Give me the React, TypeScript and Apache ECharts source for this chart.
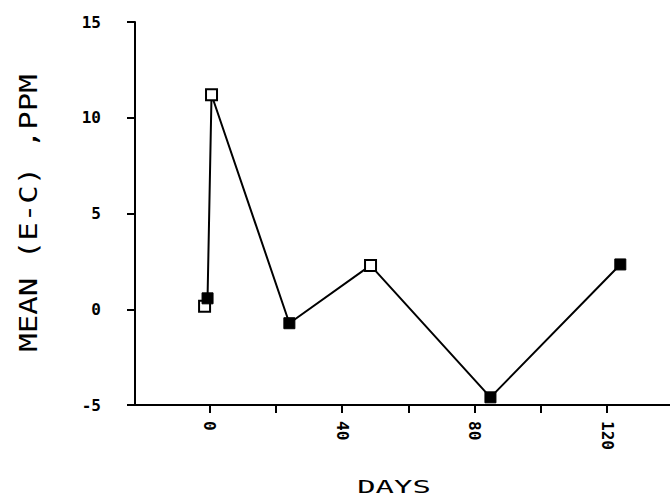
import React, { useEffect, useRef } from "react";
import * as echarts from "echarts";

// Data
const days = [-1.5, -0.6, 0.6, 24.1, 48.6, 84.8, 124];
const meanEC = [0.16, 0.57, 11.2, -0.73, 2.29, -4.6, 2.34];
const filledMarker = [false, true, false, true, false, true, true];

const xTickValues = [0, 20, 40, 60, 80, 100, 120];
const xLabelValues = [0, 40, 80, 120];
const yTickValues = [-5, 0, 5, 10, 15];

const xAxisTitle = "DAYS";
const yAxisTitle = "MEAN (E-C) ,PPM";

const FONT = "'DejaVu Sans Mono', 'Liberation Mono', monospace";

export default function App() {
  const ref = useRef<HTMLDivElement>(null);

  useEffect(() => {
    if (!ref.current) return;
    const chart = echarts.init(ref.current, null, { renderer: "svg" });

    const seriesData = days.map((d, i) => ({
      value: [d, meanEC[i]],
      itemStyle: filledMarker[i]
        ? { color: "#000", borderColor: "#000", borderWidth: 1 }
        : { color: "#fff", borderColor: "#000", borderWidth: 2 },
    }));

    chart.setOption({
      animation: false,
      backgroundColor: "#fff",
      grid: { left: 135, right: 0, top: 22, bottom: 97, containLabel: false },
      xAxis: {
        type: "value",
        min: -22.5,
        max: 139,
        splitLine: { show: false },
        axisLine: { show: true, onZero: false, lineStyle: { color: "#000", width: 2 } },
        axisTick: {
          show: true,
          inside: false,
          length: 8,
          customValues: xTickValues,
          lineStyle: { color: "#000", width: 2 },
        },
        axisLabel: {
          show: true,
          rotate: -90,
          margin: 16,
          customValues: xLabelValues,
          color: "#000",
          fontFamily: FONT,
          fontWeight: "bold",
          fontSize: 16,
        },
      },
      yAxis: {
        type: "value",
        min: -5,
        max: 15,
        interval: 5,
        splitLine: { show: false },
        axisLine: { show: true, onZero: false, lineStyle: { color: "#000", width: 2 } },
        axisTick: {
          show: true,
          inside: false,
          length: 8,
          customValues: yTickValues,
          lineStyle: { color: "#000", width: 2 },
        },
        axisLabel: {
          show: true,
          margin: 34,
          color: "#000",
          fontFamily: FONT,
          fontWeight: "bold",
          fontSize: 16,
        },
      },
      series: [
        {
          type: "line",
          data: seriesData,
          symbol: "rect",
          symbolSize: 11,
          lineStyle: { color: "#000", width: 2 },
          z: 3,
        },
      ],
      graphic: [
        {
          type: "text",
          x: 394,
          y: 487,
          scaleX: 1.7,
          style: {
            text: xAxisTitle,
            fill: "#000",
            font: `normal 18px ${FONT}`,
            align: "center",
            verticalAlign: "middle",
          },
        },
        {
          type: "text",
          x: 28,
          y: 213,
          rotation: Math.PI / 2,
          scaleX: 1.28,
          style: {
            text: yAxisTitle,
            fill: "#000",
            font: `normal 24px ${FONT}`,
            align: "center",
            verticalAlign: "middle",
          },
        },
      ],
    });

    return () => chart.dispose();
  }, []);

  return (
    <div
      ref={ref}
      style={{ position: "absolute", left: 0, top: 0, width: 670, height: 502, background: "#fff" }}
    />
  );
}
